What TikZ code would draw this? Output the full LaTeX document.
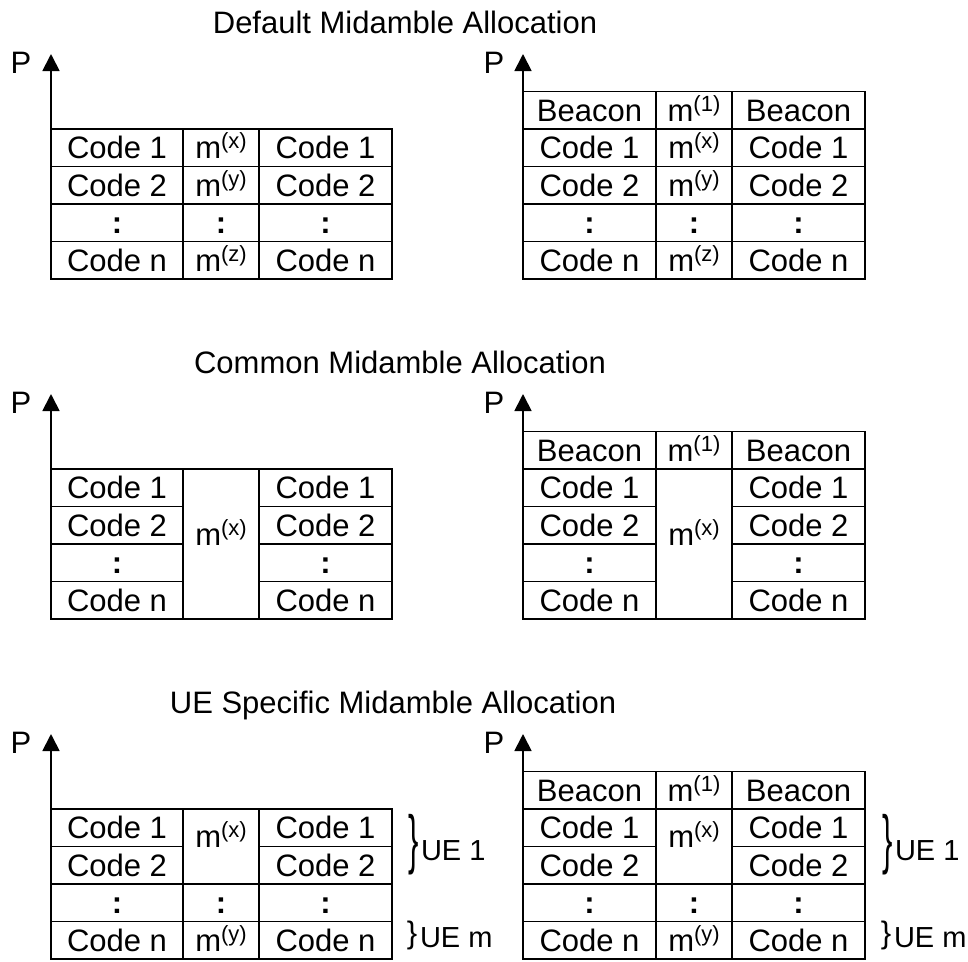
\documentclass[tikz,border=0pt]{standalone}
\usepackage{fontspec}
\setmainfont{Liberation Sans}
\usetikzlibrary{arrows.meta}
\newcommand{\msup}[1]{m\raisebox{10pt}{\fontsize{22}{22}\selectfont(#1)}}
\newcommand{\colsym}{\textbf{:}}
\begin{document}
\begin{tikzpicture}[x=1pt,y=-1pt,
  every node/.style={font=\fontsize{31}{36}\selectfont, inner sep=0pt, outer sep=0pt},
  cell/.style={draw, line width=1.8pt, text height=22pt, text depth=0pt},
  wide/.style={cell, minimum width=132pt},
  mid/.style={cell, minimum width=76pt},
  merged/.style={text depth=20pt},
  axis/.style={line width=1.8pt, -{Triangle[width=17pt,length=17pt]}},
  lbl/.style={anchor=base},
  uelbl/.style={anchor=base west, font=\fontsize{29}{34}\selectfont},
  brace/.style={anchor=center}]
\useasboundingbox (0,0) rectangle (968,961);

% ---------- Titles ----------
\node[lbl] (t1) at (405,33) {Default Midamble Allocation};
\node[lbl] (t2) at (400,373) {Common Midamble Allocation};
\node[lbl] (t3) at (393,713) {UE Specific Midamble Allocation};

% ================= Section 1 =================
% left
\foreach \r/\a/\b/\c [count=\i] in {0/Code 1/{\msup{x}}/Code 1, 1/Code 2/{\msup{y}}/Code 2, 2/{\colsym}/{\colsym}/{\colsym}, 3/Code n/{\msup{z}}/Code n}{
  \node[wide, minimum height=37.5pt] (aL\i) at (117,147.75+37.5*\r) {\a};
  \node[mid, minimum height=37.5pt] (aM\i) at (221,147.75+37.5*\r) {\b};
  \node[wide, minimum height=37.5pt, minimum width=133pt] (aR\i) at (325.5,147.75+37.5*\r) {\c};
}
\coordinate (aO) at (51,279);
\coordinate (aT) at (51,54);
\draw[axis] (aO) -- (aT);
\node[lbl] (aP) at (21,73) {P};
% right
\foreach \r/\a/\b/\c [count=\i] in {-1/Beacon/{\msup{1}}/Beacon, 0/Code 1/{\msup{x}}/Code 1, 1/Code 2/{\msup{y}}/Code 2, 2/{\colsym}/{\colsym}/{\colsym}, 3/Code n/{\msup{z}}/Code n}{
  \node[wide, minimum height=37.5pt, minimum width=133pt] (bL\i) at (589.5,147.75+37.5*\r) {\a};
  \node[mid, minimum height=37.5pt] (bM\i) at (694,147.75+37.5*\r) {\b};
  \node[wide, minimum height=37.5pt, minimum width=133pt] (bR\i) at (798.5,147.75+37.5*\r) {\c};
}
\coordinate (bO) at (523,279);
\coordinate (bT) at (523,54);
\draw[axis] (bO) -- (bT);
\node[lbl] (bP) at (494,73) {P};

% ================= Section 2 =================
% left
\foreach \r/\a [count=\i] in {0/Code 1, 1/Code 2, 2/{\colsym}, 3/Code n}{
  \node[wide, minimum height=37.5pt] (cL\i) at (117,487.75+37.5*\r) {\a};
  \node[wide, minimum height=37.5pt, minimum width=133pt] (cR\i) at (325.5,487.75+37.5*\r) {\a};
}
\node[mid, merged, minimum height=150pt] (cM) at (221,544) {\msup{x}};
\coordinate (cO) at (51,619);
\coordinate (cT) at (51,394);
\draw[axis] (cO) -- (cT);
\node[lbl] (cP) at (21,413) {P};
% right
\node[wide, minimum height=37.5pt, minimum width=133pt] (dL0) at (589.5,450.25) {Beacon};
\node[mid, minimum height=37.5pt] (dM0) at (694,450.25) {\msup{1}};
\node[wide, minimum height=37.5pt, minimum width=133pt] (dR0) at (798.5,450.25) {Beacon};
\foreach \r/\a [count=\i] in {0/Code 1, 1/Code 2, 2/{\colsym}, 3/Code n}{
  \node[wide, minimum height=37.5pt, minimum width=133pt] (dL\i) at (589.5,487.75+37.5*\r) {\a};
  \node[wide, minimum height=37.5pt, minimum width=133pt] (dR\i) at (798.5,487.75+37.5*\r) {\a};
}
\node[mid, merged, minimum height=150pt] (dM) at (694,544) {\msup{x}};
\coordinate (dO) at (523,619);
\coordinate (dT) at (523,394);
\draw[axis] (dO) -- (dT);
\node[lbl] (dP) at (494,413) {P};

% ================= Section 3 =================
% left
\foreach \r/\a [count=\i] in {0/Code 1, 1/Code 2, 2/{\colsym}, 3/Code n}{
  \node[wide, minimum height=37.5pt] (eL\i) at (117,827.75+37.5*\r) {\a};
  \node[wide, minimum height=37.5pt, minimum width=133pt] (eR\i) at (325.5,827.75+37.5*\r) {\a};
}
\node[mid, merged, minimum height=75pt] (eM1) at (221,846.5) {\msup{x}};
\node[mid, minimum height=37.5pt] (eM3) at (221,902.75) {\colsym};
\node[mid, minimum height=37.5pt] (eM4) at (221,940.25) {\msup{y}};
\coordinate (eO) at (51,959);
\coordinate (eT) at (51,734);
\draw[axis] (eO) -- (eT);
\node[lbl] (eP) at (21,753) {P};
\node[brace] (eB1) at (413.5,845) {\scalebox{1}[2.1]{\}}};
\node[uelbl] (eU1) at (421,860) {UE 1};
\node[brace] (eB2) at (412,935) {\}};
\node[uelbl] (eU2) at (420,947) {UE m};
% right
\node[wide, minimum height=37.5pt, minimum width=133pt] (fL0) at (589.5,790.25) {Beacon};
\node[mid, minimum height=37.5pt] (fM0) at (694,790.25) {\msup{1}};
\node[wide, minimum height=37.5pt, minimum width=133pt] (fR0) at (798.5,790.25) {Beacon};
\foreach \r/\a [count=\i] in {0/Code 1, 1/Code 2, 2/{\colsym}, 3/Code n}{
  \node[wide, minimum height=37.5pt, minimum width=133pt] (fL\i) at (589.5,827.75+37.5*\r) {\a};
  \node[wide, minimum height=37.5pt, minimum width=133pt] (fR\i) at (798.5,827.75+37.5*\r) {\a};
}
\node[mid, merged, minimum height=75pt] (fM1) at (694,846.5) {\msup{x}};
\node[mid, minimum height=37.5pt] (fM3) at (694,902.75) {\colsym};
\node[mid, minimum height=37.5pt] (fM4) at (694,940.25) {\msup{y}};
\coordinate (fO) at (523,959);
\coordinate (fT) at (523,734);
\draw[axis] (fO) -- (fT);
\node[lbl] (fP) at (494,753) {P};
\node[brace] (fB1) at (887.5,845) {\scalebox{1}[2.1]{\}}};
\node[uelbl] (fU1) at (895,860) {UE 1};
\node[brace] (fB2) at (886,935) {\}};
\node[uelbl] (fU2) at (894,947) {UE m};
\end{tikzpicture}
\end{document}
